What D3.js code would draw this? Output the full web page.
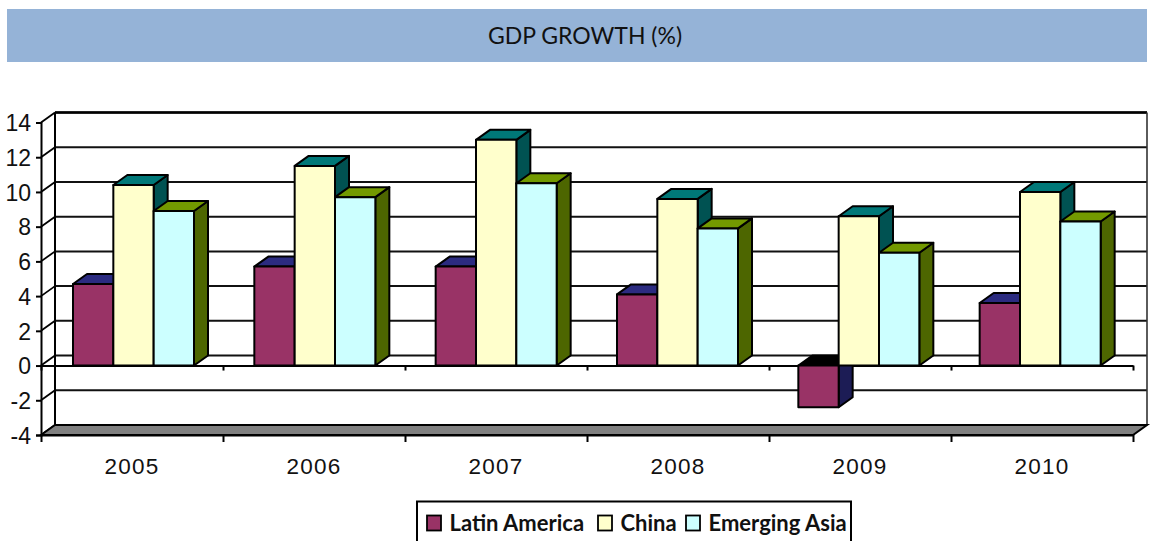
<!DOCTYPE html>
<html lang="en">

<head>
  <meta charset="utf-8">
  <title>GDP Growth</title>
  <script src="https://d3js.org/d3.v7.min.js"></script>
  <style>
    html, body { margin: 0; padding: 0; background: #fff; overflow: hidden; }
    svg { display: block; font-family: Lato, sans-serif; }
    .grid line { stroke: #111; stroke-width: 2; }
    .bar-face { stroke: #000; stroke-width: 2; stroke-linejoin: round; }
    .axis path, .axis line { stroke: #000; stroke-width: 2; }
    .ylabels text { font-size: 23px; fill: #111; }
    .xlabels text { font-size: 22.5px; fill: #111; letter-spacing: 1.2px; }
  </style>
</head>

<body>
  <div id="chart"></div>
  <script>
    var years = ['2005', '2006', '2007', '2008', '2009', '2010'];
    var seriesNames = ['Latin America', 'China', 'Emerging Asia'];
    var latinAmerica = [4.7, 5.7, 5.7, 4.1, -2.4, 3.6];
    var china = [10.4, 11.5, 13.0, 9.6, 8.6, 10.0];
    var emergingAsia = [8.9, 9.7, 10.5, 7.9, 6.5, 8.3];
    var yTicks = [-4, -2, 0, 2, 4, 6, 8, 10, 12, 14];

    var frontColors = ['#993366', '#FFFFCC', '#CCFFFF'];
    var topColors = ['#2B2B80', '#007878', '#739900'];
    var sideColors = ['#1C1C55', '#005252', '#4D6600'];

    var w = 1154;
    var h = 541;
    var left = 41, right = 1133; // front edge of the plot
    var depthX = 14, depthY = 10; // 3d offset

    var svg = d3.select('#chart').append('svg')
      .attr('width', w)
      .attr('height', h);

    // title band
    svg.append('rect')
      .attr('x', 7).attr('y', 9)
      .attr('width', 1140).attr('height', 53)
      .style('fill', '#95B3D7');
    svg.append('text')
      .attr('x', 585).attr('y', 44)
      .attr('text-anchor', 'middle')
      .style('font-size', '23px')
      .style('fill', '#111')
      .text('GDP GROWTH (%)');

    var y = d3.scaleLinear().domain([-4, 14]).range([435, 122.5]);
    var x = d3.scaleBand().domain(years).range([left, right]);
    // bars sit on a slightly tighter step than the axis
    var xBars = d3.scaleBand().domain(years).range([left, 1129]);
    var xSeries = d3.scaleBand().domain(seriesNames).range([32, 153]);
    var xEdges = d3.scaleLinear().domain([0, years.length]).range([left, right]);

    // back wall gridlines, -4 is the floor edge
    var grid = svg.append('g').attr('class', 'grid');
    grid.selectAll('line')
      .data(yTicks)
      .enter().append('line')
      .attr('x1', left + depthX)
      .attr('x2', right + depthX)
      .attr('y1', function (d) { return y(d) - depthY; })
      .attr('y2', function (d) { return y(d) - depthY; });

    // top edge is heavier
    svg.append('line')
      .attr('x1', left + depthX).attr('x2', right + depthX)
      .attr('y1', y(14) - depthY).attr('y2', y(14) - depthY)
      .style('stroke', '#000').style('stroke-width', 2.4);

    // walls
    svg.append('line')
      .attr('x1', left + depthX).attr('x2', left + depthX)
      .attr('y1', y(14) - depthY).attr('y2', y(-4) - depthY)
      .style('stroke', '#000').style('stroke-width', 2);
    svg.append('line')
      .attr('x1', right + depthX).attr('x2', right + depthX)
      .attr('y1', y(14) - depthY).attr('y2', y(-4) - depthY)
      .style('stroke', '#333').style('stroke-width', 1.6);

    // left wall diagonals
    svg.append('g').selectAll('line')
      .data(yTicks)
      .enter().append('line')
      .attr('x1', left)
      .attr('x2', left + depthX)
      .attr('y1', function (d) { return y(d); })
      .attr('y2', function (d) { return y(d) - depthY; })
      .style('stroke', '#000')
      .style('stroke-width', 1.8);

    // floor
    var floorPts = [
      [left, y(-4)], [left + depthX, y(-4) - depthY],
      [right + depthX, y(-4) - depthY], [right, y(-4)]
    ];
    svg.append('polygon')
      .attr('points', floorPts.join(' '))
      .style('fill', '#808080')
      .style('stroke', '#000')
      .style('stroke-width', 2);

    // zero line with its ticks
    var zeroAxis = d3.axisBottom(xEdges).ticks(years.length).tickSize(5).tickFormat('').tickSizeOuter(0);
    svg.append('g')
      .attr('class', 'axis')
      .attr('transform', 'translate(0,' + y(0) + ')')
      .call(zeroAxis);

    // bars, one group per year
    var values = [latinAmerica, china, emergingAsia];
    var bars = [];
    years.forEach(function (year, i) {
      seriesNames.forEach(function (name, s) {
        bars.push({ year: year, name: name, s: s, value: values[s][i] });
      });
    });

    var bar = svg.selectAll('g.bar')
      .data(bars)
      .enter().append('g')
      .attr('class', 'bar');

    function barBox(d) {
      var x0 = xBars(d.year) + xSeries(d.name);
      return {
        x0: x0,
        x1: x0 + xSeries.bandwidth(),
        yTop: y(Math.max(d.value, 0)),
        yBottom: y(Math.min(d.value, 0))
      };
    }

    // side
    bar.append('polygon')
      .attr('class', 'bar-face')
      .attr('points', function (d) {
        var b = barBox(d);
        return [[b.x1, b.yTop], [b.x1 + depthX, b.yTop - depthY],
          [b.x1 + depthX, b.yBottom - depthY], [b.x1, b.yBottom]].join(' ');
      })
      .style('fill', function (d) { return sideColors[d.s]; });

    // top, a bar below zero shows its dark underside there
    bar.append('polygon')
      .attr('class', 'bar-face')
      .attr('points', function (d) {
        var b = barBox(d);
        return [[b.x0, b.yTop], [b.x0 + depthX, b.yTop - depthY],
          [b.x1 + depthX, b.yTop - depthY], [b.x1, b.yTop]].join(' ');
      })
      .style('fill', function (d) { return d.value < 0 ? '#000' : topColors[d.s]; });

    // front
    bar.append('rect')
      .attr('class', 'bar-face')
      .attr('x', function (d) { return barBox(d).x0; })
      .attr('y', function (d) { return barBox(d).yTop; })
      .attr('width', xSeries.bandwidth())
      .attr('height', function (d) { var b = barBox(d); return b.yBottom - b.yTop; })
      .style('fill', function (d) { return frontColors[d.s]; });

    // y axis
    var yAxis = d3.axisLeft(y).tickValues(yTicks).tickSize(5).tickPadding(5)
      .tickFormat(function (d) { return String(d); });
    svg.append('g')
      .attr('class', 'axis ylabels')
      .attr('transform', 'translate(' + left + ',0)')
      .call(yAxis)
      .call(function (g) { g.selectAll('text').attr('font-family', null).attr('dy', '0.36em'); });

    // x axis, ticks on the category edges
    var edgeAxis = d3.axisBottom(xEdges).ticks(years.length).tickSize(7).tickFormat('').tickSizeOuter(0);
    svg.append('g')
      .attr('class', 'axis')
      .attr('transform', 'translate(0,' + y(-4) + ')')
      .call(edgeAxis);

    var xAxis = d3.axisBottom(x).tickSize(0).tickPadding(23.5);
    svg.append('g')
      .attr('class', 'xlabels')
      .attr('transform', 'translate(0,' + y(-4) + ')')
      .call(xAxis)
      .call(function (g) {
        g.select('.domain').remove();
        g.selectAll('text').attr('font-family', null);
      });

    // legend
    var legend = svg.append('g').attr('class', 'legend');
    legend.append('rect')
      .attr('x', 417).attr('y', 501.5)
      .attr('width', 434).attr('height', 50)
      .style('fill', '#fff')
      .style('stroke', '#000')
      .style('stroke-width', 2);

    var legendSwatchX = [427, 598, 686];
    var legendItem = legend.selectAll('g.item')
      .data(seriesNames)
      .enter().append('g')
      .attr('class', 'item');
    legendItem.append('rect')
      .attr('x', function (d, i) { return legendSwatchX[i]; })
      .attr('y', 515.5)
      .attr('width', 14)
      .attr('height', 15)
      .style('fill', function (d, i) { return frontColors[i]; })
      .style('stroke', '#000')
      .style('stroke-width', 1.8);
    legendItem.append('text')
      .attr('x', function (d, i) { return legendSwatchX[i] + 22.5; })
      .attr('y', 531)
      .style('font-size', '22px')
      .style('font-weight', 'bold')
      .style('fill', '#111')
      .text(function (d) { return d; });
  </script>
</body>

</html>
